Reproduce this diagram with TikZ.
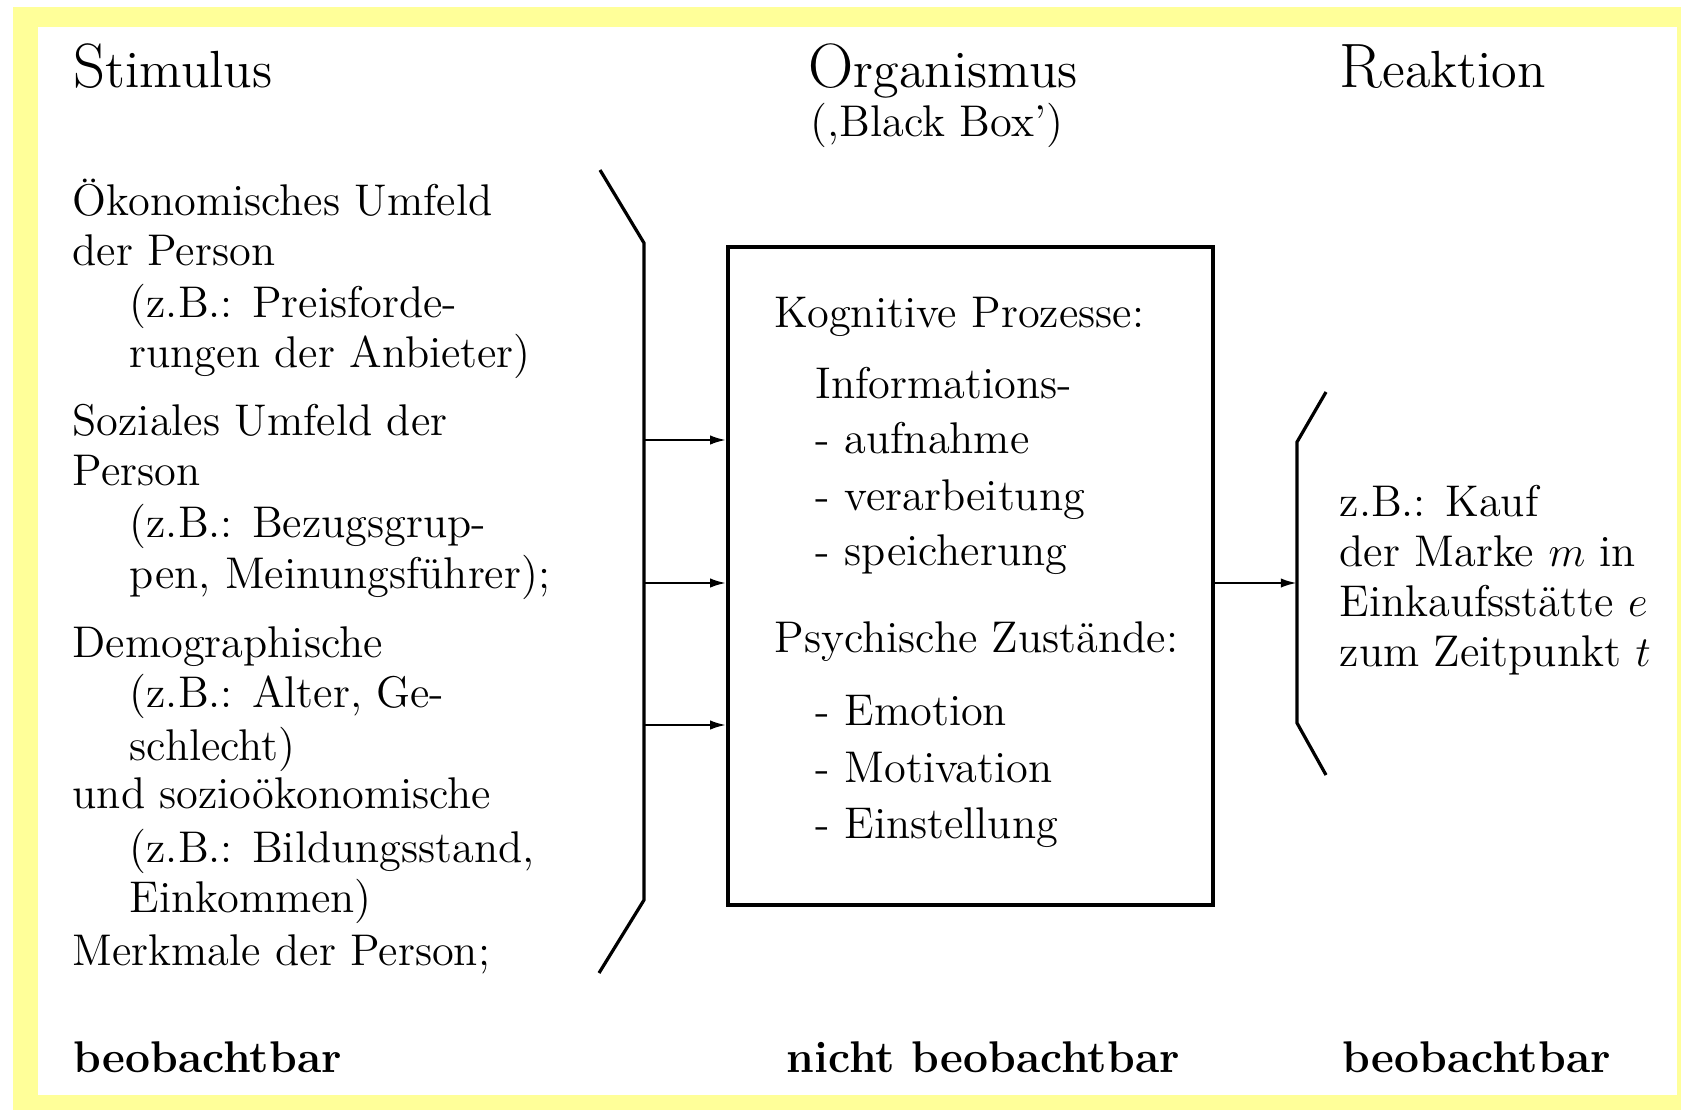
\documentclass[tikz,border=0pt,12pt]{standalone}
\usetikzlibrary{arrows.meta}
\definecolor{rahmengelb}{RGB}{255,255,153}
\newcommand{\textgr}{\fontsize{12.4}{15}\selectfont}
\tikzset{
  stimtext/.style={anchor=base west, inner sep=0pt, font=\textgr},
  headline/.style={anchor=base west, inner sep=0pt, font=\fontsize{14.6}{17}\selectfont},
  obs/.style={anchor=base west, inner sep=0pt, font=\textgr\bfseries},
  klammer/.style={line width=0.9pt},
  pfeil/.style={line width=0.7pt, -{Latex[length=4.5pt,width=2.6pt]}}
}
\newcommand{\initial}[1]{{\fontsize{17.5}{20}\selectfont #1}}
\begin{document}
\begin{tikzpicture}[x=0.2793pt, y=-0.2793pt]
\useasboundingbox (0,0) rectangle (1681,1110);
% yellow frame
\fill[white] (0,0) rectangle (1681,1110);
\fill[rahmengelb] (13,7) rectangle (1681,1110);
\fill[white] (38,27) rectangle (1677,1095);

% headings
\node[headline] (stimulus) at (73,88) {\initial{S}timulus};
\node[headline] (organismus) at (808,88) {\initial{O}rganismus};
\node[stimtext] (bbox) at (810,137) {(,Black Box')};
\node[headline] (reaktion) at (1339,88) {\initial{R}eaktion};

% stimulus column
\foreach \yy/\xx/\txt [count=\i] in {
  215/72/{Ökonomisches Umfeld},
  265/72/{der Person},
  317/129/{(z.B.: Preisforde-},
  367/129/{rungen der Anbieter)},
  435/72/{Soziales Umfeld der},
  485/72/{Person},
  537/129/{(z.B.: Bezugsgrup-},
  588/129/{pen, Meinungsführer);},
  657/72/{Demographische},
  707/129/{(z.B.: Alter, Ge-},
  760/129/{schlecht)},
  808/72/{und sozioökonomische},
  862/129/{(z.B.: Bildungsstand,},
  912/129/{Einkommen)},
  965/72/{Merkmale der Person;}}
  \node[stimtext] (stim\i) at (\xx,\yy) {\txt};

% black box
\node[draw, line width=0.9pt, minimum width=135.5pt, minimum height=183.8pt,
  inner sep=0pt] (blackbox) at (970.5,576) {};
\foreach \yy/\xx/\txt [count=\i] in {
  327/774/{Kognitive Prozesse:},
  398/815/{Informations-},
  453/815/{- aufnahme},
  510/815/{- verarbeitung},
  565/815/{- speicherung},
  652/774/{Psychische Zustände:},
  725/815/{- Emotion},
  782/815/{- Motivation},
  838/815/{- Einstellung}}
  \node[stimtext] (org\i) at (\xx,\yy) {\txt};

% brackets and arrows
\draw[klammer] (600,170) -- (644,243) -- (644,900) -- (599,973);
\foreach \yy [count=\i] in {440,583,725}
  \coordinate (ein\i) at (644,\yy);
\foreach \i in {1,2,3}
  \draw[pfeil] (ein\i) -- (ein\i -| blackbox.west);

\draw[klammer] (1326,392) -- (1297,442) -- (1297,723) -- (1326,775);
\coordinate (aus) at (1297,583);
\draw[pfeil] (blackbox.east |- aus) -- (aus);

% reaction column
\foreach \yy/\txt [count=\i] in {
  516/{z.B.: Kauf},
  566/{der Marke $m$ in},
  616/{Einkaufsstätte $e$},
  666/{zum Zeitpunkt $t$}}
  \node[stimtext] (reak\i) at (1339,\yy) {\txt};

% observability
\node[obs] (beob1) at (73,1072) {beobachtbar};
\node[obs] (nbeob) at (786,1072) {nicht beobachtbar};
\node[obs] (beob2) at (1342,1072) {beobachtbar};
\end{tikzpicture}
\end{document}
